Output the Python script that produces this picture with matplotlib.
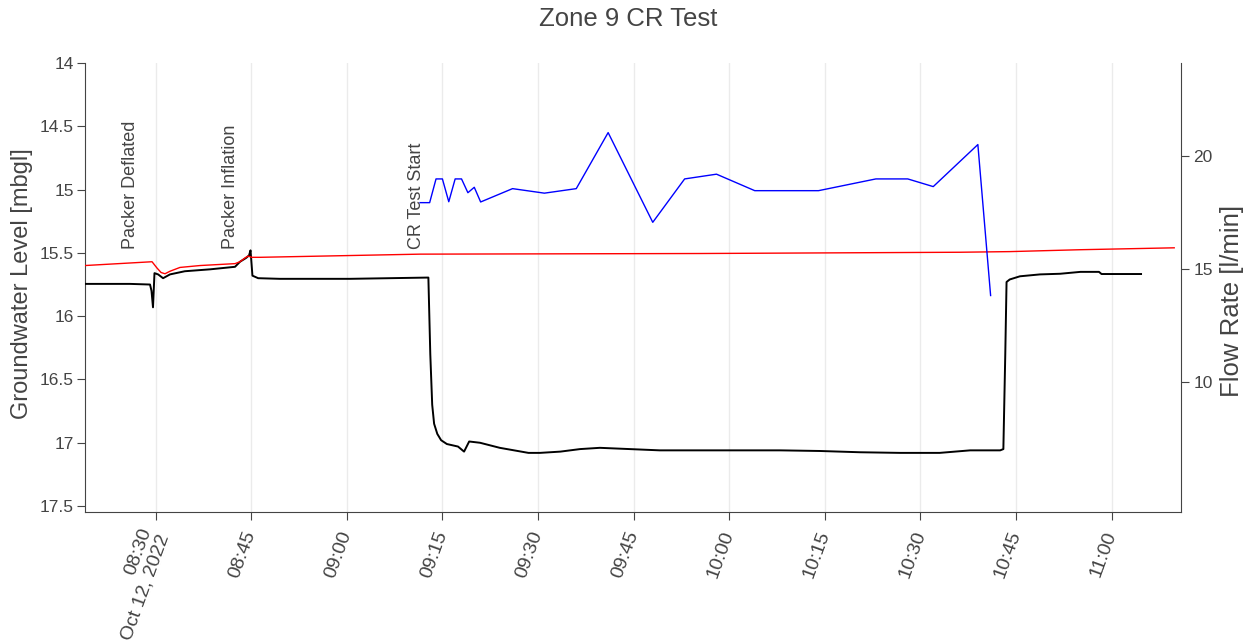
import matplotlib
matplotlib.use('Agg')
import matplotlib.pyplot as plt
import matplotlib.dates as mdates
import pandas as pd

plt.rcParams['font.family'] = ['Liberation Sans', 'DejaVu Sans']

day = '2022-10-12 '

# groundwater level (black) [mbgl]
level_time = ['08:18:56', '08:26:00', '08:29:08', '08:29:22', '08:29:36', '08:29:50',
              '08:30:24', '08:31:11', '08:32:16', '08:34:36', '08:38:33', '08:42:28',
              '08:43:15', '08:44:12', '08:44:40', '08:44:54', '08:45:12', '08:46:06',
              '08:49:30', '09:00:30', '09:12:48', '09:13:06', '09:13:24', '09:13:42',
              '09:14:12', '09:14:48', '09:15:42', '09:17:27', '09:18:24', '09:19:12',
              '09:20:54', '09:24:00', '09:28:30', '09:30:18', '09:33:30', '09:36:36',
              '09:39:42', '09:44:24', '09:49:06', '09:55:24', '10:01:42', '10:08:00',
              '10:14:12', '10:20:30', '10:26:48', '10:33:00', '10:37:48', '10:42:30',
              '10:43:00', '10:43:18', '10:43:30', '10:44:00', '10:45:36', '10:48:45',
              '10:51:54', '10:55:06', '10:58:00', '10:58:24', '11:04:36']
level = [15.745, 15.745, 15.75, 15.80, 15.93, 15.66,
         15.67, 15.70, 15.67, 15.645, 15.63, 15.61,
         15.57, 15.54, 15.52, 15.48, 15.68, 15.70,
         15.705, 15.705, 15.695, 16.30, 16.70, 16.85,
         16.93, 16.98, 17.01, 17.03, 17.07, 16.99,
         17.00, 17.04, 17.08, 17.08, 17.07, 17.05,
         17.04, 17.05, 17.06, 17.06, 17.06, 17.06,
         17.065, 17.075, 17.08, 17.08, 17.06, 17.06,
         17.05, 16.30, 15.73, 15.71, 15.685, 15.67,
         15.665, 15.65, 15.65, 15.667, 15.667]

# second level trace (red)
ref_time = ['08:18:56', '08:29:27', '08:30:14', '08:30:52', '08:31:29', '08:32:16',
            '08:33:50', '08:36:59', '08:42:28', '08:43:15', '08:44:02', '08:44:30',
            '08:45:06', '08:46:24', '09:11:30', '09:55:24', '10:36:12', '10:44:00',
            '10:55:06', '11:09:48']
ref_level = [15.60, 15.57, 15.62, 15.655, 15.665, 15.645,
             15.615, 15.60, 15.585, 15.57, 15.54, 15.525,
             15.535, 15.535, 15.51, 15.505, 15.495, 15.49,
             15.475, 15.46]

# flow rate (blue) [l/min]
flow_time = ['09:11:30', '09:13:00', '09:14:00', '09:15:00', '09:16:00', '09:17:00',
             '09:18:00', '09:19:00', '09:20:00', '09:21:00', '09:26:00', '09:31:00',
             '09:36:00', '09:41:00', '09:48:00', '09:53:00', '09:58:00', '10:04:00',
             '10:14:00', '10:23:00', '10:28:00', '10:32:00', '10:39:00', '10:41:00']
flow = [17.92, 17.92, 18.97, 18.97, 17.96, 18.97,
        18.97, 18.36, 18.60, 17.95, 18.54, 18.34,
        18.54, 21.02, 17.05, 18.97, 19.18, 18.45,
        18.45, 18.97, 18.97, 18.63, 20.49, 13.81]

notes = ['Packer Deflated', 'Packer Inflation', 'CR Test Start']
note_time = ['08:26:05', '08:41:50', '09:10:56']

tick_time = ['08:30', '08:45', '09:00', '09:15', '09:30', '09:45',
             '10:00', '10:15', '10:30', '10:45', '11:00']
tick_labels = ['08:30\nOct 12, 2022'] + tick_time[1:]

def t(lst):
    return pd.to_datetime([day + s for s in lst])

grey = '#444444'

fig = plt.figure(figsize=(12.53, 6.43), dpi=100)
ax = fig.add_axes([85 / 1253, 131 / 643, 1096 / 1253, 449 / 643])
ax2 = ax.twinx()

ax.plot(t(level_time), level, color='black', lw=1.4, zorder=3)
ax.plot(t(ref_time), ref_level, color='red', lw=1.0, zorder=4)
ax2.plot(t(flow_time), flow, color='blue', lw=1.0)

for txt, tm in zip(notes, t(note_time)):
    ax.text(tm, 15.467, txt, rotation=90, ha='center', va='bottom',
            fontsize=13, color=grey)

ax.set_xlim(pd.Timestamp(day + '08:18:56'), pd.Timestamp(day + '11:10:52'))
ax.set_ylim(17.547, 14.0)
ax.set_yticks([14, 14.5, 15, 15.5, 16, 16.5, 17, 17.5])
ax.yaxis.set_major_formatter(plt.FormatStrFormatter('%g'))
ax2.set_ylim(4.23, 24.1)
ax2.set_yticks([10, 15, 20])

ax.set_xticks(mdates.date2num(t(tick_time)))
ax.set_xticklabels(tick_labels)
for lab in ax.get_xticklabels():
    lab.set_rotation(70)
    lab.set_ha('right')
    lab.set_va('center')
    lab.set_rotation_mode('anchor')

ax.set_axisbelow(True)
ax.xaxis.grid(True, color='#ebebeb', lw=1)

for s in ['top', 'right']:
    ax.spines[s].set_visible(False)
for s in ['top', 'left', 'bottom']:
    ax2.spines[s].set_visible(False)
ax.spines['left'].set_color(grey)
ax.spines['bottom'].set_color(grey)
ax2.spines['right'].set_color(grey)

ax.tick_params(axis='y', colors=grey, labelsize=12.5, length=6, pad=2)
ax.tick_params(axis='x', colors=grey, labelsize=14, length=6, pad=8)
ax2.tick_params(axis='y', colors=grey, labelsize=12.5, length=6, pad=3)

fig.text(628 / 1253, 1 - 19 / 643, 'Zone 9 CR Test', ha='center', va='center',
         fontsize=18.5, color=grey)
fig.text(22 / 1253, 1 - 284 / 643, 'Groundwater Level [mbgl]', rotation=90,
         ha='center', va='center', fontsize=17, color=grey)
fig.text(1232 / 1253, 1 - 301 / 643, 'Flow Rate [l/min]', rotation=90,
         ha='center', va='center', fontsize=18.5, color=grey)

fig.savefig('out.png', dpi=100)
